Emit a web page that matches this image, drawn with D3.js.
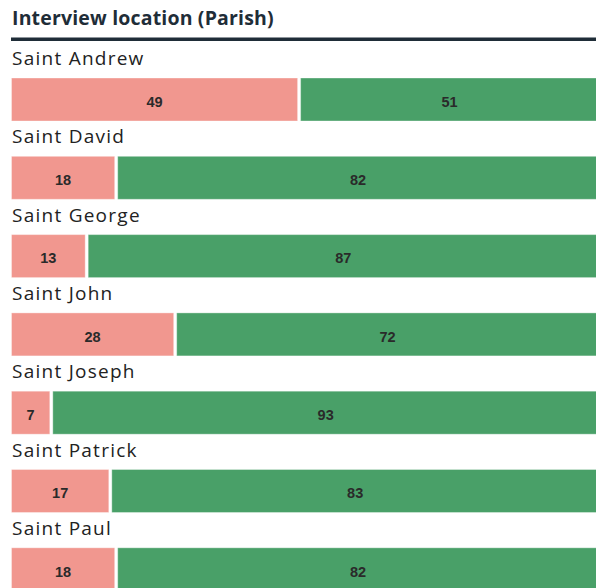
<!DOCTYPE html>
<html>
<head>
<meta charset="utf-8">
<script src="https://cdn.jsdelivr.net/npm/d3@7"></script>
<style>
  html, body { margin: 0; padding: 0; background: #fff; }
  svg { display: block; }
</style>
</head>
<body>
<div id="chart"></div>
<script>
// Parishes and the two response shares (percent) for each
const parishes = ["Saint Andrew", "Saint David", "Saint George", "Saint John", "Saint Joseph", "Saint Patrick", "Saint Paul"];
const firstShare = [49, 18, 13, 28, 7, 17, 18];
const secondShare = [51, 82, 87, 72, 93, 83, 82];
const seriesKeys = ["first", "second"];
const seriesColors = ["#f1978f", "#49a068"];
const chartTitle = "Interview location (Parish)";

const width = 596, height = 588;
const left = 10, plotWidth = 590;
const firstBarTop = 78, rowStep = 78.3, barHeight = 43;

const rows = parishes.map((p, i) => ({ parish: p, first: firstShare[i], second: secondShare[i] }));
const stacked = d3.stack().keys(seriesKeys)(rows);

const x = d3.scaleLinear().domain([0, 100]).range([left, left + plotWidth]);
const y = d3.scaleBand().domain(parishes)
  .range([firstBarTop, firstBarTop + rowStep * parishes.length])
  .paddingInner(0).paddingOuter(0);
const color = d3.scaleOrdinal().domain(seriesKeys).range(seriesColors);

const svg = d3.select("#chart").append("svg")
  .attr("width", width).attr("height", height);

// Title and rule beneath it
svg.append("text")
  .attr("x", 12).attr("y", 25)
  .attr("font-family", "'Open Sans', Lato, sans-serif")
  .attr("font-weight", 700)
  .attr("font-size", 19.5)
  .attr("letter-spacing", 0.17)
  .attr("fill", "#1f2d38")
  .text(chartTitle);

svg.append("rect")
  .attr("x", 11).attr("y", 37.5)
  .attr("width", width - 11).attr("height", 3.5)
  .attr("fill", "#1f2d38");

// Parish names above each bar
svg.append("g").selectAll("text")
  .data(parishes)
  .join("text")
  .attr("x", 12)
  .attr("y", d => y(d) - 13)
  .attr("font-family", "'Open Sans', Lato, sans-serif")
  .attr("font-size", 19)
  .attr("letter-spacing", 1.25)
  .attr("fill", "#222")
  .text(d => d);

// Stacked segments
const layer = svg.append("g").selectAll("g")
  .data(stacked)
  .join("g")
  .attr("fill", d => color(d.key));

layer.selectAll("rect")
  .data(d => d)
  .join("rect")
  .attr("x", d => x(d[0]) + 1.5)
  .attr("y", d => y(d.data.parish))
  .attr("width", d => Math.max(0, x(d[1]) - x(d[0]) - 3))
  .attr("height", barHeight)
  .attr("stroke", "#fff")
  .attr("stroke-opacity", 0.35)
  .attr("stroke-width", 1);

// Value labels centred in each segment
layer.selectAll("text")
  .data(d => d)
  .join("text")
  .attr("x", d => (x(d[0]) + x(d[1])) / 2)
  .attr("y", d => y(d.data.parish) + barHeight / 2 + 2)
  .attr("dy", "0.36em")
  .attr("text-anchor", "middle")
  .attr("font-family", "'Liberation Sans', Arial, sans-serif")
  .attr("font-weight", 700)
  .attr("font-size", 14.5)
  .attr("fill", "#2a2a2a")
  .text(d => d[1] - d[0]);
</script>
</body>
</html>
